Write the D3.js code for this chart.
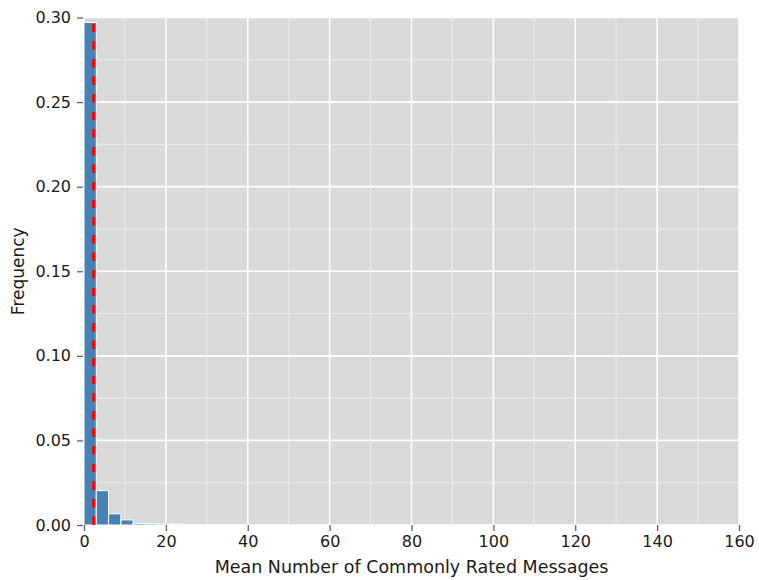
<!DOCTYPE html>
<html>
<head>
<meta charset="utf-8">
<script src="https://cdn.jsdelivr.net/npm/d3@7"></script>
<style>
  html, body { margin: 0; padding: 0; background: #ffffff; }
  svg { display: block; }
  text { font-family: "DejaVu Sans", sans-serif; fill: #1a1a1a; }
</style>
</head>
<body>
<svg id="chart" width="759" height="580"></svg>
<script>
// Histogram of the mean number of commonly rated messages (normalized, bin width 3)
const binEdges = [0, 3, 6, 9, 12, 15, 18, 21, 24];
const frequency = [0.2971, 0.0203, 0.0066, 0.0030, 0.0009, 0.0008, 0.0007, 0.0006];
const meanValue = 2.37;

const xTicks = [0, 20, 40, 60, 80, 100, 120, 140, 160];
const xMinor = [10, 30, 50, 70, 90, 110, 130, 150];
const yTicks = [0, 0.05, 0.10, 0.15, 0.20, 0.25, 0.30];
const yMinor = [0.025, 0.075, 0.125, 0.175, 0.225, 0.275];

const xLabel = "Mean Number of Commonly Rated Messages";
const yLabel = "Frequency";

const plotLeft = 84, plotRight = 739, plotTop = 17.5, plotBottom = 525;

const svg = d3.select("#chart");

const x = d3.scaleLinear().domain([0, 160]).range([plotLeft, plotRight]);
const y = d3.scaleLinear().domain([0, 0.30]).range([plotBottom, plotTop]);

// Plot background
svg.append("rect")
  .attr("x", plotLeft).attr("y", plotTop)
  .attr("width", plotRight - plotLeft).attr("height", plotBottom - plotTop)
  .attr("fill", "#d9d9d9");

// Minor grid
const grid = svg.append("g");
grid.selectAll(".vminor").data(xMinor).join("line")
  .attr("x1", d => x(d)).attr("x2", d => x(d))
  .attr("y1", plotTop).attr("y2", plotBottom)
  .attr("stroke", "#ebebeb").attr("stroke-width", 1.1);
grid.selectAll(".hminor").data(yMinor).join("line")
  .attr("y1", d => y(d)).attr("y2", d => y(d))
  .attr("x1", plotLeft).attr("x2", plotRight)
  .attr("stroke", "#ebebeb").attr("stroke-width", 1.1);

// Major grid
grid.selectAll(".vmajor").data(xTicks).join("line")
  .attr("x1", d => x(d)).attr("x2", d => x(d))
  .attr("y1", plotTop).attr("y2", plotBottom)
  .attr("stroke", "#ffffff").attr("stroke-width", 1.6);
grid.selectAll(".hmajor").data(yTicks).join("line")
  .attr("y1", d => y(d)).attr("y2", d => y(d))
  .attr("x1", plotLeft).attr("x2", plotRight)
  .attr("stroke", "#ffffff").attr("stroke-width", 1.6);

// Bars
const bins = frequency.map((f, i) => ({ x0: binEdges[i], x1: binEdges[i + 1], f }));
svg.append("g").selectAll("rect").data(bins).join("rect")
  .attr("x", d => x(d.x0))
  .attr("width", d => x(d.x1) - x(d.x0))
  .attr("y", d => y(d.f))
  .attr("height", d => y(0) - y(d.f))
  .attr("fill", "#4682b4")
  .attr("stroke", "#ffffff")
  .attr("stroke-width", 1);

// Mean marker
svg.append("line")
  .attr("x1", x(meanValue)).attr("x2", x(meanValue))
  .attr("y1", y(0)).attr("y2", y(d3.max(frequency)))
  .attr("stroke", "#ff0000")
  .attr("stroke-width", 3)
  .attr("stroke-dasharray", "8.5,9.1");

// Axes
const xAxis = d3.axisBottom(x).tickValues(xTicks).tickFormat(d3.format("d"))
  .tickSize(6).tickPadding(5);
const gx = svg.append("g").attr("transform", `translate(0,${plotBottom})`).call(xAxis);
gx.select(".domain").remove();
gx.selectAll(".tick line").attr("stroke", "#555555").attr("stroke-width", 1.2);
gx.selectAll(".tick text").attr("font-size", 16).attr("fill", "#1a1a1a")
  .attr("font-family", "DejaVu Sans");

const yAxis = d3.axisLeft(y).tickValues(yTicks).tickFormat(d3.format(".2f"))
  .tickSize(6).tickPadding(6);
const gy = svg.append("g").attr("transform", `translate(${plotLeft - 1},0)`).call(yAxis);
gy.select(".domain").remove();
gy.selectAll(".tick line").attr("stroke", "#555555").attr("stroke-width", 1.2);
gy.selectAll(".tick text").attr("font-size", 16).attr("fill", "#1a1a1a")
  .attr("font-family", "DejaVu Sans");

// Axis titles
svg.append("text")
  .attr("x", (plotLeft + plotRight) / 2).attr("y", 573)
  .attr("text-anchor", "middle")
  .attr("font-size", 17.5)
  .text(xLabel);

svg.append("text")
  .attr("transform", `translate(24,${(plotTop + plotBottom) / 2}) rotate(-90)`)
  .attr("text-anchor", "middle")
  .attr("font-size", 17)
  .text(yLabel);
</script>
</body>
</html>
